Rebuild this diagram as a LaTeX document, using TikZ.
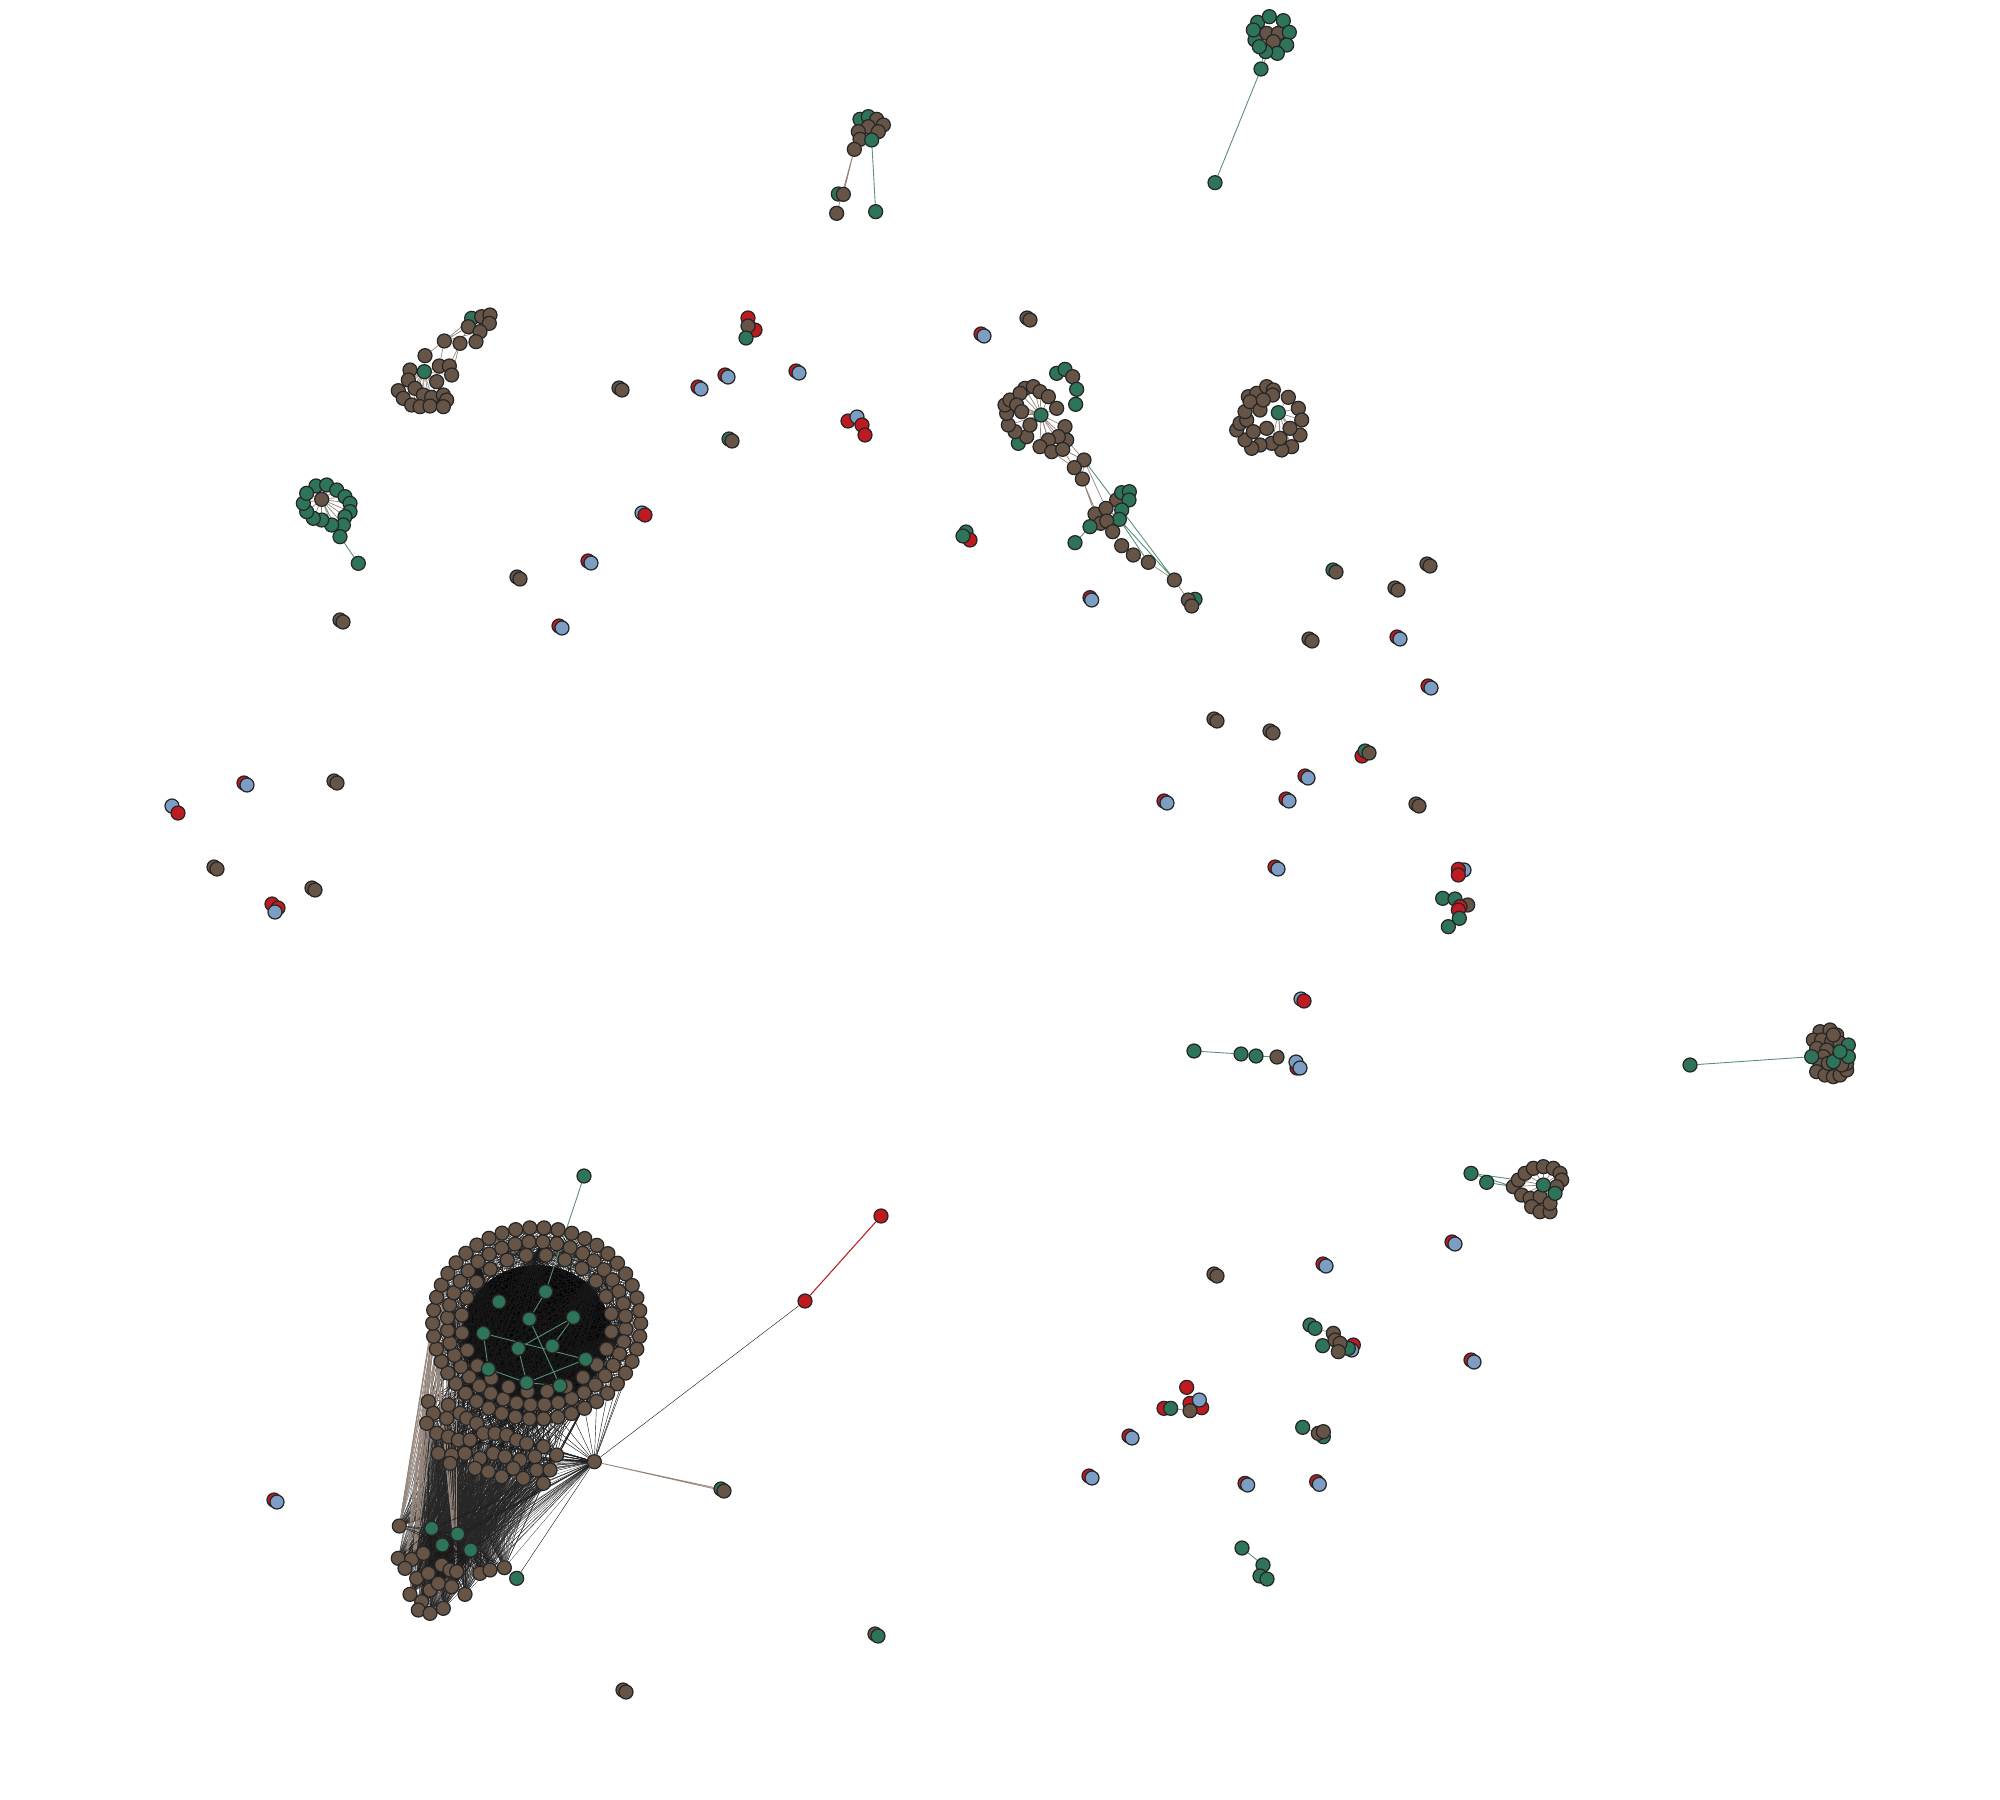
\documentclass[tikz,border=0pt]{standalone}
\usepackage{tikz}
\usetikzlibrary{backgrounds}
\definecolor{nbrown}{RGB}{102,84,71}
\definecolor{ngreen}{RGB}{46,116,89}
\definecolor{nred}{RGB}{190,26,32}
\definecolor{nblue}{RGB}{124,158,196}
\definecolor{nline}{RGB}{150,135,125}
% two overlapping vertices
\newcommand{\duo}[5]{\node[#4] (#1a) at (#2,#3) {};\node[#5] (#1b) at (#2+3,#3+2) {};}

\begin{document}
\begin{tikzpicture}[x=0.01cm,y=-0.01cm,
  nd/.style={circle,draw=black!85,line width=0.35pt,minimum size=0.14cm,inner sep=0pt},
  br/.style={nd,fill=nbrown}, gr/.style={nd,fill=ngreen},
  rd/.style={nd,fill=nred}, bl/.style={nd,fill=nblue},
  ek/.style={line width=0.12pt,black!90},
  ef/.style={line width=0.07pt,black!85},
  eb/.style={line width=0.2pt,nline},
  eg/.style={line width=0.25pt,ngreen!80},
  er/.style={line width=0.3pt,nred}]
\useasboundingbox (0,0) rectangle (2000,1800);

% big component
\begin{scope}[shift={(380,1200)},scale=1/3]
  \begin{scope}[shift={(470,370)}]
    \foreach \i in {0,...,45} \node[br] (ro\i) at (\i*7.83:312 and 287) {};
    \foreach \i in {0,...,39} \node[br] (rm\i) at (\i*9+4:268 and 245) {};
    \foreach \i in {0,...,23} \node[br] (ri\i) at (\i*15+7:226 and 206) {};
  \end{scope}
  \foreach \p [count=\k] in {(497,275),(357,305),(448,357),(580,352),(310,400),(415,445),
      (517,438),(617,478),(325,507),(440,548),(540,557)}
    \node[gr] (bg\k) at \p {};
  \foreach \p [count=\k] in {(145,605),(205,615),(240,640),(160,640),(200,655),(260,655),
      (290,670),(140,670),(170,700),(205,710),(235,720),(270,720),(310,700),(345,700),
      (380,705),(410,720),(440,730),(490,740),(175,760),(215,765),(255,760),(300,775),
      (340,760),(375,770),(420,780),(465,770),(530,765),(210,790),(285,805),(325,815),
      (365,830),(400,805),(430,835),(470,810),(510,810),(490,850)}
    \node[br] (lp\k) at \p {};
  \foreach \p [count=\k] in {(58,978),(55,1075),(95,1078),(130,1060),(75,1105),(110,1135),
      (185,1095),(210,1110),(230,1115),(300,1120),(330,1110),(373,1103),(90,1183),
      (125,1205),(150,1170),(175,1150),(215,1160),(255,1183),(115,1230),(150,1240),
      (190,1225),(145,1120)}
    \node[br] (cb\k) at \p {};
  \foreach \p [count=\k] in {(155,985),(233,1002),(187,1035),(272,1050)}
    \node[gr] (cg\k) at \p {};
  \node[gr] (cg5) at (410,1135) {};
  \node[br] (hub) at (643,785) {};
  \node[gr] (tg) at (612,-72) {};
\end{scope}
\node[rd] (rr1) at (805,1301) {};
\node[rd] (rr2) at (881,1216) {};
\duo{q42}{721}{1489}{gr}{br}

% upper left component
\begin{scope}[shift={(380,290)},scale=1/3]
  \node[gr] (ag) at (275,85) {};
  \foreach \p [count=\k] in {(305,80),(330,75),(328,100),(265,110),(300,125),(288,155),
      (193,153),(240,160),(135,197),(90,240),(178,228),(208,228),(215,255),(170,275),
      (85,270),(55,302),(105,295),(130,315),(155,322),(190,315),(200,330),(70,325),
      (95,345),(120,350),(150,348),(190,350)}
    \node[br] (a\k) at \p {};
  \node[gr] (a0) at (133,245) {};
\end{scope}

% green ring, left
\begin{scope}[shift={(290,470)},scale=1/3]
  \foreach \p [count=\k] in {(78,48),(110,45),(140,60),(165,80),(180,100),(180,125),
      (165,140),(160,165),(125,165),(95,150),(70,145),(50,125),(40,100),(50,70)}
    \node[gr] (w\k) at \p {};
  \node[br] (w0) at (95,88) {};
  \node[gr] (w15) at (150,200) {};
  \node[gr] (w16) at (205,280) {};
\end{scope}

% top right star
\begin{scope}[shift={(1200,0)},scale=1/3]
  \node[br] (z11) at (200,100) {};
  \node[br] (z12) at (235,100) {};
  \node[br] (z13) at (220,125) {};
  \foreach \p [count=\k] in {(173,67),(208,50),(250,62),(268,97),(260,135),(232,160),
      (197,155),(165,120),(160,90),(178,140)}
    \node[gr] (z\k) at \p {};
  \node[gr] (z14) at (183,207) {};
  \node[gr] (z15) at (45,548) {};
\end{scope}

% top middle
\begin{scope}[shift={(800,100)},scale=1/3]
  \node[gr] (y1) at (180,58) {};
  \node[gr] (y2) at (205,50) {};
  \foreach \p [count=\k from 3] in {(230,58),(250,75),(205,80),(175,95),(235,95),(180,118)}
    \node[br] (y\k) at \p {};
  \node[gr] (y9) at (215,120) {};
  \node[br] (y10) at (163,148) {};
  \node[gr] (y11) at (115,282) {};
  \node[br] (y12) at (130,283) {};
  \node[br] (y13) at (110,340) {};
  \node[gr] (y14) at (227,335) {};
\end{scope}

% long chain
\begin{scope}[shift={(980,360)},scale=1/3]
  \node[gr] (hg) at (115,250) {};
  \foreach \p [count=\k] in {(135,85),(160,80),(180,95),(205,110),(230,145),(255,200),
      (260,240),(235,230),(205,240),(180,260),(215,275),(248,268),(140,230),(105,215),
      (85,195),(80,160),(75,135),(90,120),(120,100),(150,195),(110,135),(125,155)}
    \node[br] (h\k) at \p {};
  \node[gr] (hc) at (183,165) {};
  \node[gr] (t1) at (230,40) {};
  \node[gr] (t2) at (255,28) {};
  \node[br] (t3) at (278,50) {};
  \node[gr] (t4) at (290,88) {};
  \node[gr] (t5) at (287,133) {};
  \node[br] (k1) at (312,300) {};
  \node[br] (k2) at (283,323) {};
  \node[br] (k3) at (307,357) {};
  \node[br] (n1) at (410,420) {};
  \foreach \p [count=\k] in {(425,398),(448,395),(447,420),(425,450),(418,478)}
    \node[gr] (m\k) at \p {};
  \node[br] (n2) at (345,462) {};
  \node[br] (n3) at (378,445) {};
  \node[br] (n4) at (362,490) {};
  \node[br] (n5) at (380,483) {};
  \node[br] (n6) at (398,515) {};
  \node[gr] (s1) at (330,500) {};
  \node[gr] (s2) at (285,548) {};
  \node[br] (u1) at (425,557) {};
  \node[br] (u2) at (460,585) {};
  \node[br] (u3) at (505,607) {};
  \node[br] (u4) at (583,660) {};
  \node[gr] (u7) at (645,718) {};
  \node[br] (u5) at (625,720) {};
  \node[br] (u6) at (635,738) {};
  \node[rd] (v1) at (330,713) {};
  \node[bl] (v2) at (335,720) {};
\end{scope}

% brown ring, top right
\begin{scope}[shift={(1220,370)},scale=1/3]
  \foreach \p [count=\k] in {(85,80),(110,70),(140,50),(160,60),(158,75),(205,82),
      (235,115),(245,150),(240,195),(215,230),(185,240),(155,220),(120,225),(95,235),
      (75,210),(50,180),(60,160),(80,150),(75,125),(90,95),(120,120),(140,175),
      (100,185),(180,205),(210,175),(130,90)}
    \node[br] (x\k) at \p {};
  \node[gr] (x0) at (175,128) {};
\end{scope}

% right cluster
\begin{scope}[shift={(1800,1010)},scale=1/3]
  \node[gr] (e0) at (-330,165) {};
  \foreach \p [count=\k] in {(60,65),(90,60),(110,75),(40,90),(65,90),(95,95),(120,100),
      (50,115),(80,120),(70,140),(60,165),(50,185),(75,195),(100,200),(120,195),
      (140,180),(140,160),(125,165),(100,75),(85,160)}
    \node[br] (e\k) at \p {};
  \foreach \p [count=\k from 21] in {(35,140),(100,155),(145,105),(145,140),(120,125)}
    \node[gr] (e\k) at \p {};
\end{scope}

% lower right ring
\begin{scope}[shift={(1460,1150)},scale=1/3]
  \node[gr] (f1) at (33,70) {};
  \node[gr] (f2) at (80,97) {};
  \foreach \p [count=\k from 3] in {(160,110),(175,90),(195,70),(220,55),(250,50),(280,55),
      (300,70),(305,90),(185,135),(210,145),(240,140),(215,170),(240,185),(270,185),
      (270,160),(290,110)}
    \node[br] (f\k) at \p {};
  \node[gr] (f19) at (250,105) {};
  \node[gr] (f20) at (285,130) {};
\end{scope}

% small groups, lower middle
\begin{scope}[shift={(1150,1370)},scale=1/3]
  \node[rd] (i1) at (110,52) {};
  \node[rd] (i2) at (42,115) {};
  \node[gr] (i3) at (62,115) {};
  \node[rd] (i4) at (120,100) {};
  \node[rd] (i5) at (155,113) {};
  \node[bl] (i6) at (148,90) {};
  \node[br] (i7) at (120,122) {};
  \node[gr] (i8) at (458,172) {};
  \node[gr] (i9) at (520,200) {};
  \node[br] (i10) at (505,190) {};
  \node[br] (i11) at (520,185) {};
  \node[rd] (i12) at (285,340) {};
  \node[bl] (i13) at (293,345) {};
  \node[rd] (i14) at (500,335) {};
  \node[bl] (i15) at (508,343) {};
\end{scope}
\begin{scope}[shift={(1430,850)},scale=1/3]
  \node[bl] (j1) at (102,60) {};
  \node[rd] (j2) at (85,58) {};
  \node[rd] (j3) at (85,75) {};
  \node[gr] (j4) at (38,145) {};
  \node[br] (j6) at (113,165) {};
  \node[gr] (j5) at (75,147) {};
  \node[rd] (j7) at (90,170) {};
  \node[rd] (j8) at (85,180) {};
  \node[gr] (j9) at (88,205) {};
  \node[gr] (j10) at (55,230) {};
\end{scope}
\begin{scope}[shift={(1300,1300)},scale=1/3]
  \node[gr] (o1) at (30,75) {};
  \node[gr] (o2) at (45,85) {};
  \node[gr] (o3) at (68,137) {};
  \node[rd] (o4) at (160,135) {};
  \node[bl] (o5) at (155,150) {};
  \node[gr] (o6) at (145,145) {};
  \node[br] (o7) at (100,100) {};
  \node[br] (o8) at (105,120) {};
  \node[br] (o9) at (120,130) {};
  \node[br] (o10) at (115,155) {};
\end{scope}

% short chains and loose groups
\node[gr] (p1) at (1194,1051) {};
\node[gr] (p2) at (1241,1054) {};
\node[gr] (p3) at (1256,1056) {};
\node[br] (p4) at (1277,1057) {};
\node[rd] (p5) at (1297,1068) {};
\node[bl] (p6) at (1296,1062) {};
\node[bl] (p7) at (1300,1068) {};
\node[gr] (gc1) at (1242,1548) {};
\node[gr] (gc2) at (1263,1565) {};
\node[gr] (gc3) at (1260,1576) {};
\node[gr] (gc4) at (1267,1579) {};
\node[rd] (r1) at (748,318) {};
\node[rd] (r2) at (755,330) {};
\node[br] (r3) at (748,326) {};
\node[gr] (r4) at (746,338) {};
\node[rd] (r5) at (848,421) {};
\node[bl] (r6) at (857,417) {};
\node[rd] (r7) at (862,425) {};
\node[rd] (r8) at (865,435) {};
\node[gr] (r11) at (966,532) {};
\node[rd] (r10) at (970,540) {};
\node[gr] (r9) at (963,536) {};
\node[rd] (r12) at (1362,756) {};
\node[gr] (r13) at (1365,751) {};
\node[br] (r14) at (1369,753) {};
\node[bl] (sl1) at (172,806) {};
\node[rd] (sl2) at (178,813) {};
\node[rd] (sl3) at (272,904) {};
\node[rd] (sl4) at (278,908) {};
\node[bl] (sl5) at (275,912) {};

\duo{q1}{1027}{318}{br}{br}
\duo{q2}{981}{334}{rd}{bl}
\duo{q3}{619}{388}{br}{br}
\duo{q4}{698}{387}{rd}{bl}
\duo{q5}{725}{375}{rd}{bl}
\duo{q6}{796}{371}{rd}{bl}
\duo{q7}{729}{439}{gr}{br}
\duo{q8}{642}{513}{bl}{rd}
\duo{q9}{588}{561}{rd}{bl}
\duo{q10}{517}{577}{br}{br}
\duo{q11}{559}{626}{rd}{bl}
\duo{q12}{340}{620}{br}{br}
\duo{q14}{1333}{570}{gr}{br}
\duo{q15}{1427}{564}{br}{br}
\duo{q16}{1395}{588}{br}{br}
\duo{q17}{1309}{639}{br}{br}
\duo{q18}{1397}{637}{rd}{bl}
\duo{q19}{1428}{686}{rd}{bl}
\duo{q20}{1214}{719}{br}{br}
\duo{q21}{1270}{731}{br}{br}
\duo{q22}{1305}{776}{rd}{bl}
\duo{q23}{1164}{801}{rd}{bl}
\duo{q24}{1286}{799}{rd}{bl}
\duo{q25}{1416}{804}{br}{br}
\duo{q26}{1275}{867}{rd}{bl}
\duo{q27}{1301}{999}{bl}{rd}
\duo{q28}{1452}{1242}{rd}{bl}
\duo{q29}{1214}{1274}{br}{br}
\duo{q30}{1323}{1264}{rd}{bl}
\duo{q31}{1471}{1360}{rd}{bl}
\duo{q32}{1129}{1436}{rd}{bl}
\duo{q33}{1089}{1476}{rd}{bl}
\duo{q34}{875}{1634}{br}{gr}
\duo{q35}{623}{1690}{br}{br}
\duo{q36}{274}{1500}{rd}{bl}
\duo{q37}{244}{783}{rd}{bl}
\duo{q38}{334}{781}{br}{br}
\duo{q39}{214}{867}{br}{br}
\duo{q40}{312}{888}{br}{br}

\begin{pgfonlayer}{background}
  \fill[white] (0,0) rectangle (2000,1800);
  \begin{scope}[shift={(380,1200)},scale=1/3]
    \fill[black] (470,400) ellipse [x radius=222,y radius=205];
  \end{scope}
  \foreach \i in {0,...,45} \foreach \j in {0,4,...,36} \draw[ek] (ro\i) -- (rm\j);
  \foreach \a in {1,...,36} \foreach \b in {1,...,22} \draw[ef] (lp\a) -- (cb\b);
  \foreach \a in {1,...,36} \foreach \j in {0,5,...,35} \draw[ek] (lp\a) -- (rm\j);
  \foreach \i in {20,...,28} \foreach \b in {1,5,9,13} \draw[eb] (ro\i) -- (cb\b);
  \foreach \g in {1,...,4} \foreach \b in {1,...,22} \draw[ek] (cg\g) -- (cb\b);
  \foreach \i in {3,...,12} \draw[ek] (hub) -- (ro\i);
  \foreach \a in {10,...,36} \draw[ek] (hub) -- (lp\a);
  \foreach \b in {1,...,22} \draw[ef] (hub) -- (cb\b);
  \foreach \g in {1,...,5} \draw[ek] (hub) -- (cg\g);
  \draw[ek] (hub) -- (rr1);
  \draw[er] (rr1) -- (rr2);
  \draw[eb] (hub) -- (q42a) (hub) -- (q42b);
  \draw[eg] (tg) -- (bg1);
  \draw[eg] (bg1) -- (bg3) (bg3) -- (bg11) (bg5) -- (bg8) (bg5) -- (bg9)
    (bg6) -- (bg4) (bg7) -- (bg4) (bg6) -- (bg10) (bg9) -- (bg10)
    (bg10) -- (bg8) (bg11) -- (bg10);
  % other components
  \foreach \k in {9,...,26} \draw[eb] (a0) -- (a\k);
  \draw[eb] (a7) -- (a4) (a7) -- (a5) (a8) -- (a6) (a8) -- (a4) (a9) -- (a7)
    (a12) -- (a8) (a11) -- (a7) (a13) -- (a8) (a7) -- (ag);
  \foreach \k in {1,...,14} \draw[eb] (w0) -- (w\k);
  \draw[eg] (w15) -- (w16) (w15) -- (w0);
  \draw[eg] (z15) -- (z14);
  \draw[eb] (z14) -- (z13) (z14) -- (z11);
  \draw[eb] (y10) -- (y12) (y10) -- (y13);
  \draw[eg] (y9) -- (y14);
  \foreach \k in {1,...,22} \draw[eb] (hc) -- (h\k);
  \draw[eb] (h7) -- (k1) (h12) -- (k1) (h12) -- (k2) (h11) -- (k2) (k2) -- (k3)
    (k1) -- (k3) (k1) -- (n3) (k3) -- (n2) (k3) -- (n4) (n6) -- (u1) (u1) -- (u2)
    (u2) -- (u3) (u3) -- (u4) (u4) -- (u5) (n4) -- (s1) (t3) -- (t4);
  \draw[eg] (k1) -- (m4) (n3) -- (m5) (m5) -- (u3) (m5) -- (u4) (m4) -- (u4)
    (s1) -- (s2);
  \foreach \k in {6,...,12,24,25} \draw[eb] (x0) -- (x\k);
  \draw[eg] (e0) -- (e21);
  \draw[eg] (f1) -- (f3) (f2) -- (f3) (f1) -- (f4);
  \foreach \k in {3,...,18} \draw[eb] (f19) -- (f\k);
  \draw[eb] (i3) -- (i7) (i8) -- (i10) (o2) -- (o7);
  \draw[eg] (p1) -- (p2) (p2) -- (p3) (p3) -- (p4) (gc1) -- (gc2);
\end{pgfonlayer}
\end{tikzpicture}
\end{document}
